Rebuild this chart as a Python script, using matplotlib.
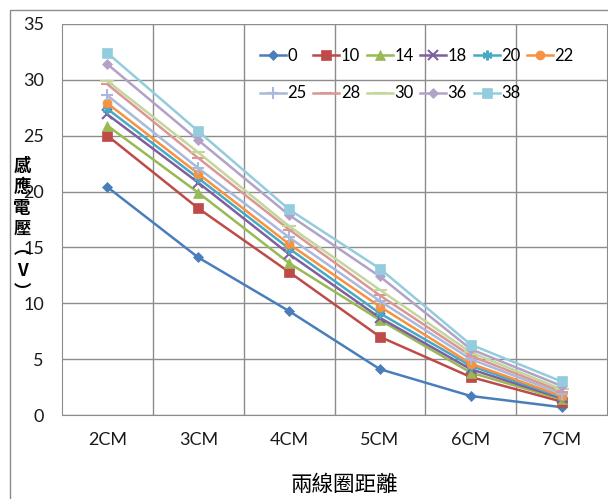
import matplotlib.pyplot as plt
from matplotlib.patches import Rectangle

# distances between the two coils
categories = ['2CM', '3CM', '4CM', '5CM', '6CM', '7CM']

# induced voltage per series (legend label -> values)
s0 = [20.4, 14.1, 9.3, 4.1, 1.7, 0.7]
s10 = [25.0, 18.5, 12.8, 7.0, 3.4, 1.2]
s14 = [25.9, 19.9, 13.6, 8.5, 3.8, 1.4]
s18 = [26.9, 20.8, 14.4, 8.7, 4.1, 1.5]
s20 = [27.4, 21.2, 14.9, 9.1, 4.4, 1.6]
s22 = [27.9, 21.6, 15.3, 9.7, 4.6, 1.7]
s25 = [28.6, 22.1, 15.9, 10.2, 5.0, 1.9]
s28 = [29.6, 23.0, 16.6, 10.7, 5.3, 2.1]
s30 = [29.9, 23.5, 16.9, 11.2, 5.6, 2.3]
s36 = [31.4, 24.6, 17.9, 12.4, 5.9, 2.6]
s38 = [32.4, 25.4, 18.4, 13.1, 6.3, 3.0]

labels = ['0', '10', '14', '18', '20', '22', '25', '28', '30', '36', '38']
series = [s0, s10, s14, s18, s20, s22, s25, s28, s30, s36, s38]
colors = ['#4A7EBB', '#BE4B48', '#98B954', '#7D60A0', '#46AAC5', '#F69240',
          '#A7B9DC', '#DB9695', '#C3D69B', '#B3A2C7', '#93CDDD']
markers = ['D', 's', '^', 'x', (6, 2, 0), 'o', '+', '_', '_', 'D', 's']
msizes = [5, 6.5, 6.5, 7, 7, 6.5, 8, 8, 10, 5.5, 6.5]

plt.rcParams['font.family'] = ['Lato', 'Noto Sans CJK TC', 'DejaVu Sans']

fig = plt.figure(figsize=(6.08, 4.99), dpi=100)
ax = fig.add_axes([62/608, 84/499, 545/608, 391/499])

x = list(range(len(categories)))
handles = []
for vals, lab, c, m, ms in zip(series, labels, colors, markers, msizes):
    thin = m in ('x', '+', '_') or isinstance(m, tuple)
    h, = ax.plot(x, vals, color=c, marker=m, markersize=ms, linewidth=1.8,
                 markeredgewidth=1.5 if thin else 0.5,
                 markeredgecolor=c, label=lab)
    handles.append(h)

ax.set_xlim(-0.5, 5.5)
ax.set_ylim(0, 35)
ax.set_yticks(range(0, 36, 5))
ax.set_xticks(x)
ax.set_xticklabels(categories)
ax.set_xticks([i + 0.5 for i in range(5)], minor=True)
ax.tick_params(axis='both', which='both', length=0, labelsize=13, colors='#1a1a1a')
ax.tick_params(axis='x', pad=12)
ax.tick_params(axis='y', pad=13)
ax.grid(True, axis='y', color='#8c8c8c', linewidth=1)
ax.grid(True, axis='x', which='minor', color='#8c8c8c', linewidth=1)
ax.set_axisbelow(True)
for sp in ax.spines.values():
    sp.set_color('#8c8c8c')
ax.spines['top'].set_visible(False)

# row-major legend order for 6 columns x 2 rows
order = [0, 6, 1, 7, 2, 8, 3, 9, 4, 10, 5]
ax.legend([handles[i] for i in order], [labels[i] for i in order], ncol=6,
          loc='upper left', bbox_to_anchor=(0.345, 0.965), frameon=False,
          fontsize=12, handlelength=1.55, handletextpad=0.1,
          columnspacing=0.4, labelspacing=1.3, borderaxespad=0.2)

fig.text(344/608, 1 - 485/499, '兩線圈距離', ha='center', va='center',
         fontsize=15.5, family=['Noto Sans CJK TC'])

# vertical y-axis title, stacked characters
fig.text(22/608, 1 - 229/499, '感\n應\n電\n壓\n︵\nV\n︶', ha='center', va='center',
         fontsize=12.5, fontweight='bold', linespacing=1.22,
         family=['Noto Sans CJK TC', 'DejaVu Sans'])

fig.patches.append(Rectangle((10/608, -0.1), 1.2, 1 - 10/499 + 0.1,
                             transform=fig.transFigure, fill=False,
                             edgecolor='#8c8c8c', linewidth=1))

fig.savefig('out.png', dpi=100)
